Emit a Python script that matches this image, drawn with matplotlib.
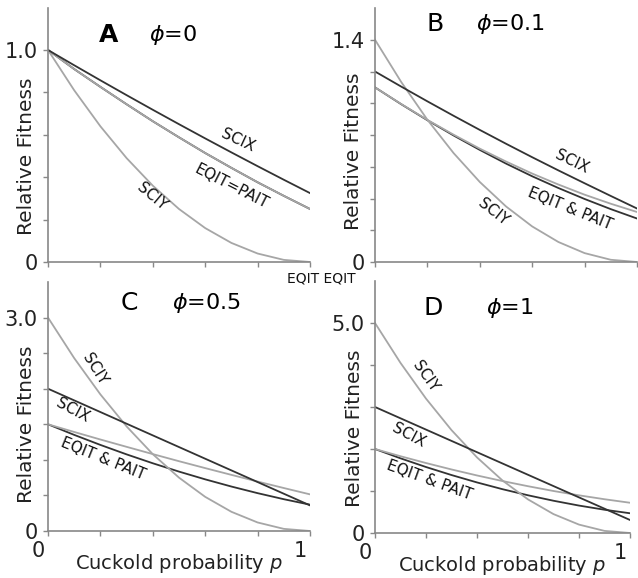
#Relative fitness against cuckold probability p for four values of phi

#import the libraries
import numpy as np
import matplotlib
matplotlib.use('Agg')
import matplotlib.pyplot as plt
import matplotlib.transforms as mtransforms

plt.rcParams['font.family'] = 'DejaVu Sans'
plt.rcParams['mathtext.fontset'] = 'dejavusans'

#store the data
p = [0.0, 0.1, 0.2, 0.3, 0.4, 0.5, 0.6, 0.7, 0.8, 0.9, 1.0]

#panel A, phi = 0
A_scix = [1.0, 0.928, 0.857, 0.787, 0.718, 0.65, 0.583, 0.517, 0.452, 0.388, 0.325]
A_eqit = [1.0, 0.91, 0.826, 0.744, 0.664, 0.588, 0.514, 0.444, 0.376, 0.312, 0.25]
A_pait = [1.0, 0.91, 0.826, 0.744, 0.664, 0.588, 0.514, 0.444, 0.376, 0.312, 0.25]
A_sciy = [1.0, 0.81, 0.64, 0.49, 0.36, 0.25, 0.16, 0.09, 0.04, 0.01, 0.0]

#panel B, phi = 0.1
B_scix = [1.2, 1.105, 1.012, 0.921, 0.832, 0.745, 0.66, 0.577, 0.496, 0.416, 0.337]
B_eqit = [1.1, 0.995, 0.895, 0.802, 0.714, 0.633, 0.557, 0.488, 0.424, 0.367, 0.315]
B_pait = [1.1, 0.994, 0.893, 0.797, 0.706, 0.62, 0.54, 0.466, 0.397, 0.333, 0.274]
B_sciy = [1.4, 1.134, 0.896, 0.686, 0.504, 0.35, 0.224, 0.126, 0.056, 0.014, 0.0]

#panel C, phi = 0.5
C_scix = [2.0, 1.836, 1.672, 1.508, 1.344, 1.18, 1.016, 0.852, 0.688, 0.524, 0.36]
C_eqit = [1.5, 1.392, 1.286, 1.183, 1.081, 0.981, 0.884, 0.789, 0.695, 0.604, 0.515]
C_pait = [1.5, 1.351, 1.21, 1.077, 0.952, 0.835, 0.726, 0.625, 0.532, 0.447, 0.37]
C_sciy = [3.0, 2.43, 1.92, 1.47, 1.08, 0.75, 0.48, 0.27, 0.12, 0.03, 0.0]

#panel D, phi = 1
D_scix = [3.0, 2.731, 2.462, 2.193, 1.924, 1.655, 1.386, 1.117, 0.848, 0.579, 0.31]
D_eqit = [2.0, 1.828, 1.666, 1.513, 1.37, 1.237, 1.114, 1.0, 0.897, 0.804, 0.72]
D_pait = [2.0, 1.778, 1.571, 1.38, 1.204, 1.043, 0.898, 0.768, 0.653, 0.554, 0.47]
D_sciy = [5.0, 4.05, 3.2, 2.45, 1.8, 1.25, 0.8, 0.45, 0.2, 0.05, 0.0]

letters = ['A', 'B', 'C', 'D']
phis = ['0', '0.1', '0.5', '1']
ytop = [1.0, 1.4, 3.0, 5.0]
ystep = [0.2, 0.2, 0.5, 1.0]
ylims = [1.2, 1.6, 3.5, 6.0]
top_labels = ['1.0', '1.4', '3.0', '5.0']

dark = '#333333'
light = '#a6a6a6'
spine = '#888888'

fig = plt.figure(figsize=(6.38, 5.78), dpi=100)
W, H = 638.0, 578.0

#axes boxes in pixels: left, right, bottom, top
boxes = [(48, 310, 262, 7.6), (375, 637, 262, 8), (48, 310, 531, 282), (375, 630, 533, 281)]
axes = []
for (l, r, b, t) in boxes:
    axes.append(fig.add_axes([l / W, 1 - b / H, (r - l) / W, (b - t) / H]))

data = [(A_scix, A_eqit, A_pait, A_sciy),
        (B_scix, B_eqit, B_pait, B_sciy),
        (C_scix, C_eqit, C_pait, C_sciy),
        (D_scix, D_eqit, D_pait, D_sciy)]

#shift for the x tick labels (they sit a little left of their ticks)
shift = mtransforms.ScaledTranslation(-3 / 100, 0, fig.dpi_scale_trans)

for i, ax in enumerate(axes):
    scix, eqit, pait, sciy = data[i]
    ax.plot(p, pait, color=dark, lw=1.3)
    ax.plot(p, sciy, color=light, lw=1.3)
    ax.plot(p, eqit, color=light, lw=1.3)
    ax.plot(p, scix, color=dark, lw=1.3)

    ax.set_xlim(0, 1)
    ax.set_ylim(0, ylims[i])
    for s in ['top', 'right']:
        ax.spines[s].set_visible(False)
    for s in ['left', 'bottom']:
        ax.spines[s].set_color(spine)
        ax.spines[s].set_linewidth(1.2)
    ax.patch.set_visible(False)

    yt = np.arange(0, ytop[i] + ystep[i] / 2, ystep[i])
    ax.set_yticks(yt)
    ax.set_yticklabels(['0'] + [''] * (len(yt) - 2) + [top_labels[i]])
    ax.set_xticks([0, 0.2, 0.4, 0.6, 0.8, 1.0])
    ax.tick_params(direction='out', length=3.5, width=1, color=spine,
                   labelsize=15, labelcolor='#222222', pad=4)
    if i < 2:
        ax.set_xticklabels([])
    else:
        ax.set_xticklabels(['0', '', '', '', '', '1'])
        for lab in ax.get_xticklabels():
            lab.set_horizontalalignment('right')
            lab.set_transform(lab.get_transform() + shift)
        ax.set_xlabel('Cuckold probability $p$', fontsize=14, labelpad=0, color='#222222')
        ax.xaxis.set_label_coords(0.5, -0.085)

    ax.set_ylabel('Relative Fitness', fontsize=14.5, color='#222222')
    ax.yaxis.set_label_coords(-0.045, (ytop[i] / 2) / ylims[i])

    ax.text(0.23 if i != 2 else 0.31, ytop[i] * 1.07, letters[i], fontsize=18,
            fontweight='bold' if i == 0 else 'normal', ha='center', va='center')
    phx = [0.477, 0.515, 0.603, 0.53][i]
    ax.text(phx, ytop[i] * 1.07, r'$\phi$=' + phis[i], fontsize=16, ha='center', va='center')

#curve labels
lab = dict(fontsize=11, ha='center', va='center', rotation_mode='anchor', color='#111111')
axes[0].text(0.725, 0.575, 'SCIX', rotation=-25, **lab)
axes[0].text(0.702, 0.354, 'EQIT=PAIT', rotation=-27, **lab)
axes[0].text(0.397, 0.307, 'SCIY', rotation=-40, **lab)

axes[1].text(0.752, 0.631, 'SCIX', rotation=-26, **lab)
axes[1].text(0.744, 0.334, 'EQIT & PAIT', rotation=-22, **lab)
axes[1].text(0.45, 0.315, 'SCIY', rotation=-38, **lab)

axes[2].text(0.179, 2.28, 'SCIY', rotation=-58, **lab)
axes[2].text(0.096, 1.69, 'SCIX', rotation=-28, **lab)
axes[2].text(0.211, 1.02, 'EQIT & PAIT', rotation=-22, **lab)

axes[3].text(0.197, 3.73, 'SCIY', rotation=-55, **lab)
axes[3].text(0.132, 2.33, 'SCIX', rotation=-28, **lab)
axes[3].text(0.215, 1.26, 'EQIT & PAIT', rotation=-20, **lab)

#stray labels between the top panels
fig.text(321 / W, 1 - 279 / H, 'EQIT EQIT', fontsize=10, ha='center', va='center', color='#111111')

plt.savefig('out.png', dpi=100)
